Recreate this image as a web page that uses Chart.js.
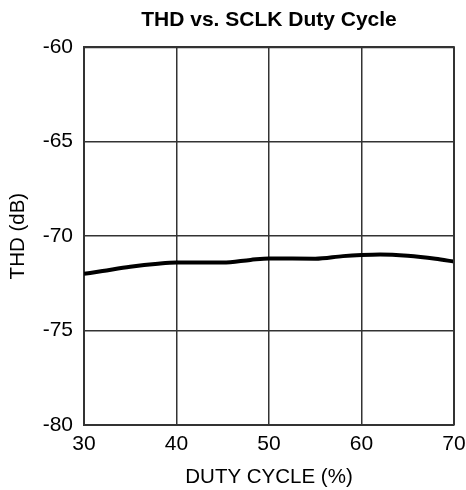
<!DOCTYPE html>
<html><head><meta charset="utf-8">
<script src="https://cdn.jsdelivr.net/npm/chart.js@4"></script>
<style>html,body{margin:0;padding:0;background:#fff}#wrap{width:466px;height:490px}</style>
</head><body><div id="wrap"><canvas id="c" width="466" height="490"></canvas></div>
<script>
const dutyCycle = [30, 32, 35, 38, 40, 45, 48, 50, 55, 58, 60, 62, 65, 68, 70];
const thd = [-72.0, -71.85, -71.62, -71.46, -71.4, -71.4, -71.26, -71.18, -71.2, -71.06, -71.0, -70.97, -71.04, -71.2, -71.35];
const xTicks = [30, 40, 50, 60, 70];
const yTicks = [-80, -75, -70, -65, -60];
const FONT = "'Liberation Sans', Arial, sans-serif";

new Chart(document.getElementById('c'), {
  type: 'line',
  data: { datasets: [{ data: dutyCycle.map((x, i) => ({x, y: thd[i]})), borderColor: '#000', borderWidth: 4, pointRadius: 0, tension: 0.4, cubicInterpolationMode: 'monotone', fill: false }] },
  options: {
    responsive: false, animation: false, devicePixelRatio: 1,
    layout: { padding: { left: 0, right: 0, top: 0, bottom: 0 } },
    plugins: {
      legend: { display: false }, tooltip: { enabled: false },
      title: { display: true, text: 'THD vs. SCLK Duty Cycle', fullSize: false, color: '#000', font: { family: FONT, size: 21, weight: 'bold' }, padding: { top: 8, bottom: 14 } }
    },
    scales: {
      x: { type: 'linear', min: 30, max: 70,
        afterBuildTicks: s => { s.ticks = xTicks.map(v => ({value: v})); },
        afterFit: s => { s.height = 65; s.paddingRight = 12; },
        grid: { color: '#333', lineWidth: 1.5, drawTicks: false },
        border: { color: '#333', width: 2 },
        ticks: { color: '#000', padding: 7, font: { family: FONT, size: 21 } },
        title: { display: true, text: 'DUTY CYCLE (%)', color: '#000', font: { family: FONT, size: 20.5 }, padding: { top: 0, bottom: 0 } } },
      y: { min: -80, max: -60,
        afterBuildTicks: s => { s.ticks = yTicks.map(v => ({value: v})); },
        afterFit: s => { s.width = 84; },
        grid: { color: '#333', lineWidth: 1.5, drawTicks: false },
        border: { color: '#333', width: 2 },
        ticks: { color: '#000', padding: 11, font: { family: FONT, size: 21 } },
        title: { display: true, text: 'THD (dB)', color: '#000', font: { family: FONT, size: 20.5 }, padding: { top: 6, bottom: 0 } } }
    }
  },
  plugins: [{ id: 'rightTopBorder', afterDraw(chart) {
    const {ctx, chartArea: a} = chart; ctx.save(); ctx.strokeStyle = '#333'; ctx.lineWidth = 2;
    ctx.beginPath(); ctx.moveTo(a.left, a.top); ctx.lineTo(a.right, a.top); ctx.lineTo(a.right, a.bottom); ctx.stroke(); ctx.restore(); } }]
});
</script></body></html>
